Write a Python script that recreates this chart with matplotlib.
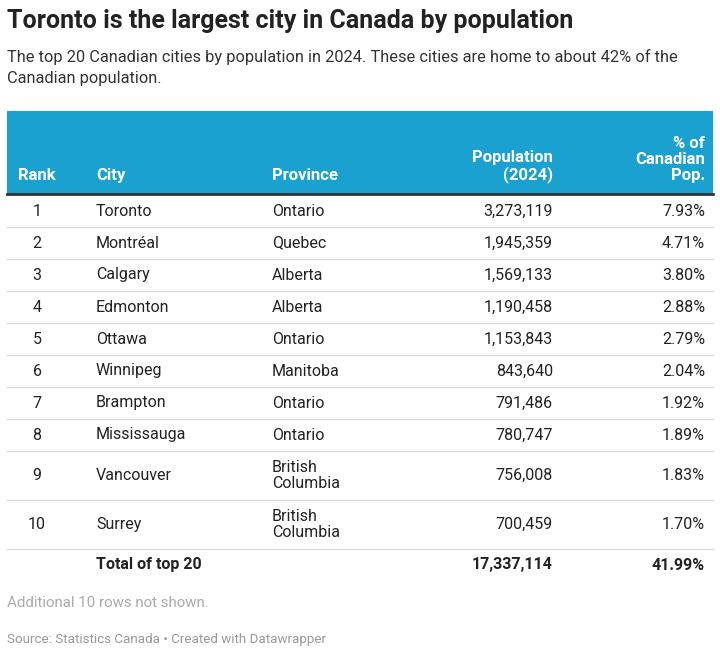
import matplotlib
matplotlib.use("Agg")
import matplotlib.pyplot as plt
from matplotlib.patches import Rectangle

ranks = ["1","2","3","4","5","6","7","8","9","10"]
cities = ["Toronto","Montréal","Calgary","Edmonton","Ottawa","Winnipeg","Brampton","Mississauga","Vancouver","Surrey"]
provinces = ["Ontario","Quebec","Alberta","Alberta","Ontario","Manitoba","Ontario","Ontario","British\nColumbia","British\nColumbia"]
populations = ["3,273,119","1,945,359","1,569,133","1,190,458","1,153,843","843,640","791,486","780,747","756,008","700,459"]
shares = ["7.93%","4.71%","3.80%","2.88%","2.79%","2.04%","1.92%","1.89%","1.83%","1.70%"]
total_label = "Total of top 20"
total_pop = "17,337,114"
total_share = "41.99%"

plt.rcParams['font.family'] = ['Roboto', 'DejaVu Sans']
fig = plt.figure(figsize=(7.2, 6.56), dpi=100)
ax = fig.add_axes([0, 0, 1, 1])
ax.set_xlim(0, 720); ax.set_ylim(656, 0); ax.axis('off')

ax.text(7, 21, "Toronto is the largest city in Canada by population", fontsize=18, weight='bold', color='#222222', va='center')
ax.text(7, 57, "The top 20 Canadian cities by population in 2024. These cities are home to about 42% of the", fontsize=11.8, color='#333333', va='center')
ax.text(7, 78, "Canadian population.", fontsize=11.8, color='#333333', va='center')

L, R = 7, 713
ax.add_patch(Rectangle((L, 111), R-L, 83, color='#1ba1cf', lw=0))
ax.plot([L, R], [194, 194], color='#333333', lw=2)
hc = dict(fontsize=12, weight='bold', color='white', va='bottom')
hy = 183
ax.text(37, hy, "Rank", ha='center', **hc)
ax.text(96, hy, "City", ha='left', **hc)
ax.text(272, hy, "Province", ha='left', **hc)
ax.text(553, hy, "Population\n(2024)", ha='right', multialignment='right', linespacing=1.1, **hc)
ax.text(705, hy, "% of\nCanadian\nPop.", ha='right', multialignment='right', linespacing=1.1, **hc)

y = 195
bc = dict(fontsize=11.5, color='#222222', va='center')
for i in range(len(ranks)):
    h = 49 if "\n" in provinces[i] else 32
    c = y + h/2
    ax.text(37, c, ranks[i], ha='center', **bc)
    ax.text(96, c, cities[i], ha='left', **bc)
    ax.text(272, c, provinces[i], ha='left', linespacing=1.1, **bc)
    ax.text(553, c, populations[i], ha='right', **bc)
    ax.text(705, c, shares[i], ha='right', **bc)
    y += h
    ax.plot([L, R], [y, y], color='#dddddd', lw=1)
c = y + 16
tb = dict(fontsize=11.5, color='#222222', va='center', weight='bold')
ax.text(96, c, total_label, ha='left', **tb)
ax.text(553, c, total_pop, ha='right', **tb)
ax.text(705, c, total_share, ha='right', **tb)

ax.text(7, 603, "Additional 10 rows not shown.", fontsize=10.8, color='#aaaaaa', va='center')
ax.text(7, 640, "Source: Statistics Canada • Created with Datawrapper", fontsize=9.6, color='#999999', va='center')
fig.savefig("out.png", dpi=100)
